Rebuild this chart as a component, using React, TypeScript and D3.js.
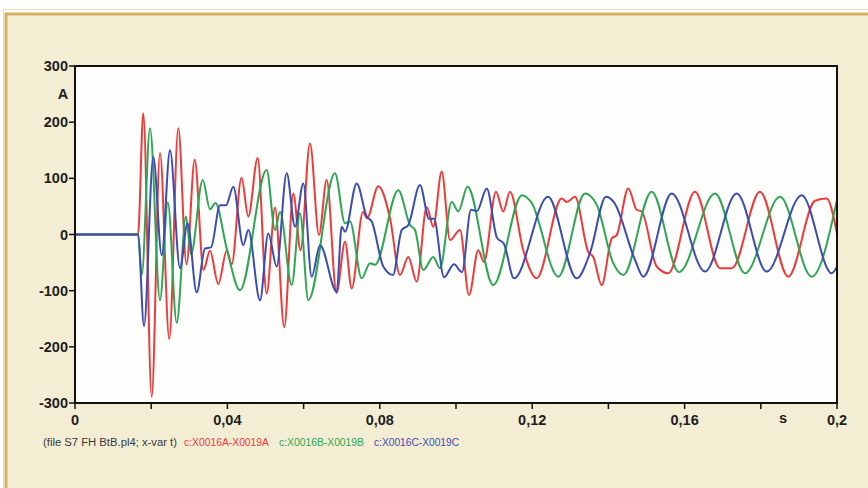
import * as d3 from "d3";
import React from "react";

// time in ms, current in A
const redT = [0, 16.54, 17.93, 20.13, 22.31, 24.75, 27.11, 29.27, 31.42, 33.73, 35.43, 37.61, 39.82, 41.13, 43.7, 45.49, 47.95, 50.31, 52.49, 54.93, 57.3, 59.19, 61.68, 64.04, 66.06, 68.64, 70.87, 72.62, 75.59, 76.64, 79.61, 82.68, 85.3, 87.48, 89.69, 92.31, 94.04, 96.25, 98.43, 101.05, 103.41, 105.85, 107.35, 110.5, 112.41, 114.17, 117.66, 121.18, 127.74, 129.06, 131.23, 134.72, 136.04, 138.24, 140.87, 142.18, 145.22, 147.43, 148.74, 152.68, 155.72, 162.73, 169.29, 172.44, 179.79, 187.22, 194.23, 197.3, 200];
const redA = [0, 0, 216, -289, 145, -186, 189, -53, 133, -63, -29, -88, -29, -53, 101, 32, 136, -105, 48, -165, 73, -28, 162, -1, 97, -104, -13, -96, 40, 29, 86, 29, -72, -40, -84, 49, 14, 112, -10, 8, -108, -28, -49, 76, 41, 76, -28, -78, 64, 58, 67, -31, -40, -90, -7, -1, 82, 44, 41, -57, -69, 76, -60, -60, 76, -75, 60, 64, 1];

const greenT = [0, 16.54, 17.51, 19.69, 22.31, 24.36, 26.69, 29.13, 30.45, 33.52, 35.43, 36.88, 39.82, 43.31, 50.31, 52.49, 53.81, 56.88, 59.06, 61.23, 68.24, 70.87, 72.18, 75.25, 77.43, 78.74, 84.86, 87.93, 89.24, 91.42, 94.04, 95.8, 98.87, 100.6, 103.02, 109.79, 117.32, 119.69, 126.85, 133.86, 136.93, 141.21, 143.91, 151.36, 158.53, 167.98, 175.85, 185.04, 193.36, 200];
const greenA = [0, 0, -72, 189, -117, 57, -157, 32, -35, 97, 45, 56, -25, -99, 115, 8, 40, -90, 38, -117, 109, 20, 23, -78, -51, -54, 79, 17, 8, -63, -40, -60, 58, 41, 85, -90, 70, 58, -75, 73, 53, -50, -72, 76, -67, 73, -69, 67, -75, 61];

const blueT = [0, 16.54, 18.11, 20.55, 22.76, 24.93, 27.56, 29.53, 31.94, 34.12, 35.7, 38.06, 39.63, 41.55, 44.17, 45.49, 48.56, 50.73, 52.94, 55.56, 57.74, 59.92, 62.13, 64.3, 68.69, 70.0, 70.87, 73.94, 76.56, 77.87, 80.92, 83.46, 85.75, 87.48, 90.55, 92.91, 94.23, 96.85, 99.48, 101.57, 103.94, 105.51, 108.06, 110.76, 112.6, 115.22, 124.15, 131.68, 135.17, 139.37, 141.47, 146.98, 149.16, 156.61, 165.35, 173.67, 181.55, 190.73, 198.61, 200];
const blueA = [0, 0, -163, 138, -37, 150, -60, 20, -103, -25, -23, 52, 52, 85, -19, 8, -117, 2, -57, 109, 14, 91, -75, -19, -102, 14, 5, 91, 32, 23, -57, -72, 8, 17, 88, 28, 28, -76, -53, -67, 44, 42, 82, -6, -17, -78, 67, -78, -33, 67, 57, -45, -75, 73, -66, 73, -66, 70, -69, -57];

const yTicks = [300, 200, 100, 0, -100, -200, -300];
const xTicks = [0, 20, 40, 60, 80, 100, 120, 140, 160, 180, 200];
const xLabels = ["0", "", "0,04", "", "0,08", "", "0,12", "", "0,16", "", "0,2"];

const legendNames = ["c:X0016A-X0019A", "c:X0016B-X0019B", "c:X0016C-X0019C"];
const colors = ["#ec3b3b", "#2ea655", "#3b4cb2"];

const W = 868;
const H = 488;
const plot = { left: 75, right: 837, top: 66, bottom: 403 };

export default function App() {
  const x = d3.scaleLinear().domain([0, 200]).range([plot.left, plot.right]);
  const y = d3.scaleLinear().domain([-300, 300]).range([plot.bottom, plot.top]);

  const line = d3
    .line<[number, number]>()
    .x((d) => x(d[0]))
    .y((d) => y(d[1]))
    .curve(d3.curveMonotoneX);

  const series = [
    { t: redT, a: redA },
    { t: greenT, a: greenA },
    { t: blueT, a: blueA },
  ];

  const font = "'Liberation Sans', Arial, sans-serif";

  return (
    <div style={{ position: "fixed", left: 0, top: 0 }}>
      <svg width={W} height={H} style={{ display: "block" }}>
        <rect x={0} y={0} width={W} height={H} fill="#ffffff" />
        {/* frame */}
        <rect x={3.5} y={9.5} width={W} height={H} fill="none" stroke="#eadcb4" strokeWidth={1} />
        <rect x={6} y={14} width={W} height={H} fill="#f3edd3" stroke="#d6b061" strokeWidth={3} />

        {/* plot area */}
        <rect
          x={plot.left}
          y={plot.top}
          width={plot.right - plot.left}
          height={plot.bottom - plot.top}
          fill="#fdfdfb"
        />

        <g clipPath="url(#clip)">
          <defs>
            <clipPath id="clip">
              <rect x={plot.left} y={plot.top} width={plot.right - plot.left} height={plot.bottom - plot.top} />
            </clipPath>
          </defs>
          {series.map((s, i) => (
            <path
              key={i}
              d={line(s.t.map((t, j) => [t, s.a[j]] as [number, number])) || ""}
              fill="none"
              stroke={colors[i]}
              strokeWidth={2}
              strokeLinejoin="round"
            />
          ))}
        </g>

        <rect
          x={plot.left}
          y={plot.top}
          width={plot.right - plot.left}
          height={plot.bottom - plot.top}
          fill="none"
          stroke="#111"
          strokeWidth={2}
        />

        {/* y axis */}
        {yTicks.map((v) => (
          <g key={v}>
            <line x1={plot.left - 6} x2={plot.left} y1={y(v)} y2={y(v)} stroke="#111" strokeWidth={1.5} />
            <text
              x={plot.left - 7}
              y={y(v) + 5}
              textAnchor="end"
              fontFamily={font}
              fontWeight="bold"
              fontSize={14.5}
              fill="#1e1e1e"
            >
              {v}
            </text>
          </g>
        ))}
        <text x={63} y={99} textAnchor="middle" fontFamily={font} fontWeight="bold" fontSize={14.5} fill="#1e1e1e">
          A
        </text>

        {/* x axis */}
        {xTicks.map((v, i) => (
          <g key={v}>
            <line x1={x(v)} x2={x(v)} y1={plot.bottom} y2={plot.bottom + 6} stroke="#111" strokeWidth={1.5} />
            {xLabels[i] && (
              <text
                x={x(v)}
                y={plot.bottom + 22}
                textAnchor="middle"
                fontFamily={font}
                fontWeight="bold"
                fontSize={14.5}
                fill="#1e1e1e"
              >
                {xLabels[i]}
              </text>
            )}
          </g>
        ))}
        <text x={783} y={plot.bottom + 20} textAnchor="middle" fontFamily={font} fontWeight="bold" fontSize={14.5} fill="#1e1e1e">
          s
        </text>

        {/* legend */}
        <g fontFamily={font} fontSize={10}>
          <text x={43} y={446} fill="#3a3a3a" textLength={134} lengthAdjust="spacingAndGlyphs">
            (file S7  FH  BtB.pl4; x-var t)
          </text>
          {legendNames.map((n, i) => (
            <text
              key={n}
              x={184 + i * 95}
              y={446}
              fill={colors[i]}
              textLength={85}
              lengthAdjust="spacingAndGlyphs"
            >
              {n}
            </text>
          ))}
        </g>
      </svg>
    </div>
  );
}
